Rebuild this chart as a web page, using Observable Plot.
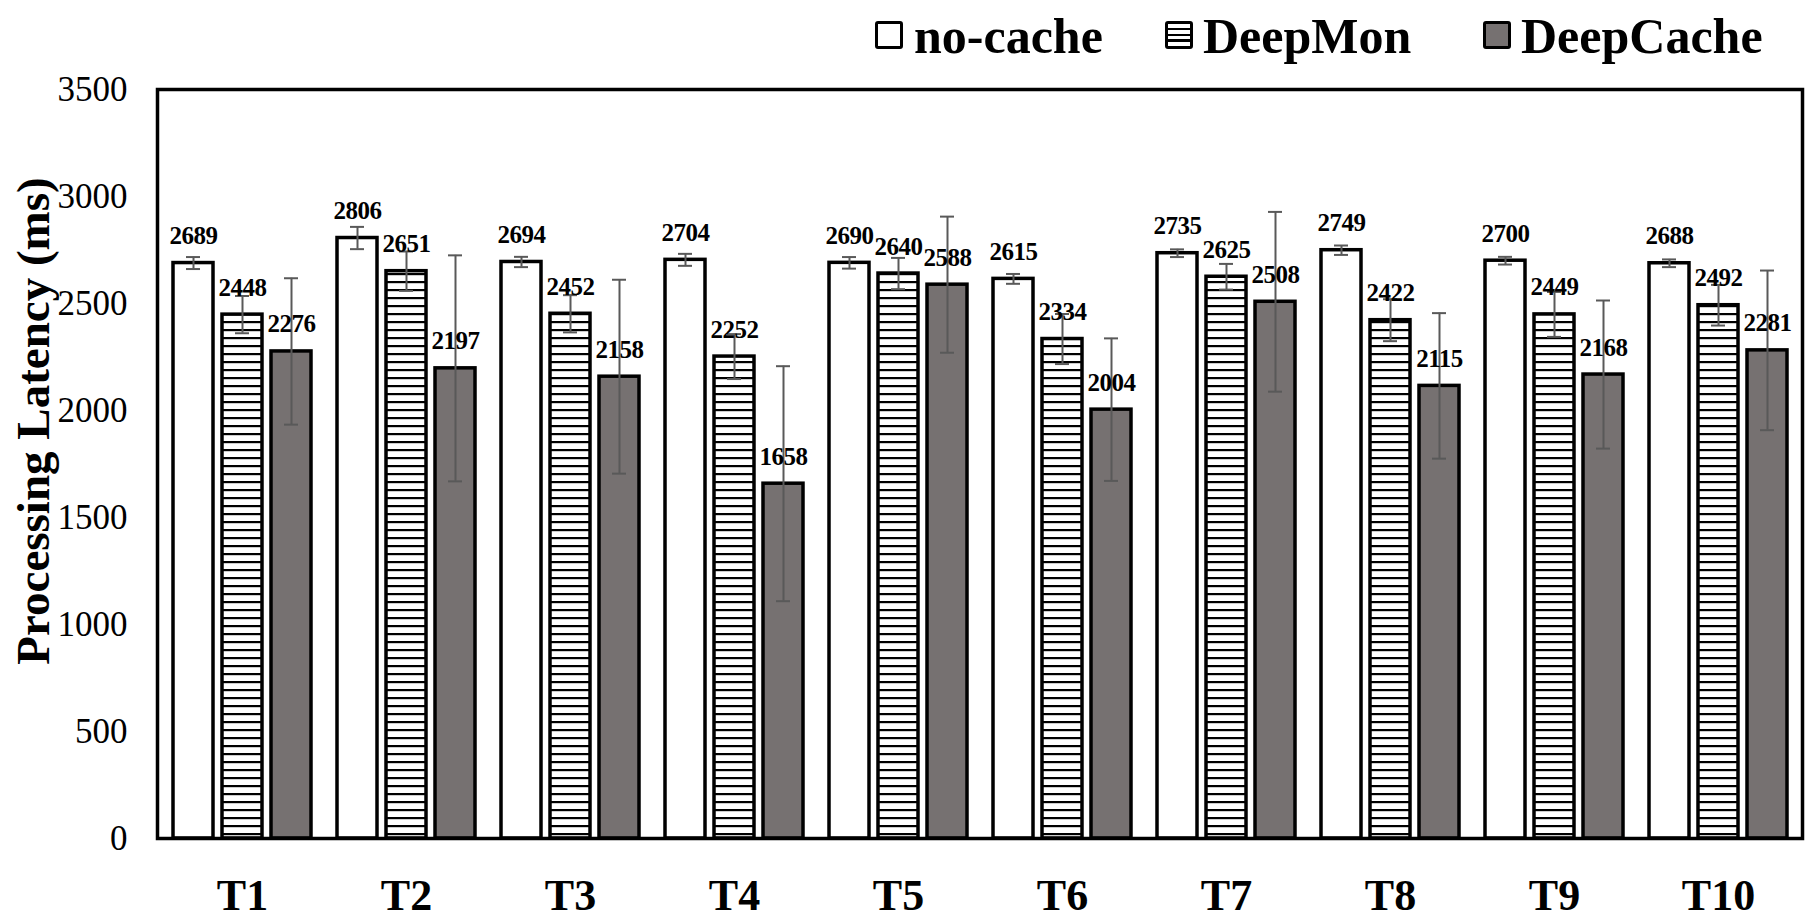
<!DOCTYPE html>
<html>
<head>
<meta charset="utf-8">
<script src="https://cdn.jsdelivr.net/npm/d3@7"></script>
<script src="https://cdn.jsdelivr.net/npm/@observablehq/plot@0.6"></script>
<style>
  html, body { margin: 0; padding: 0; background: #fff; }
  body { width: 1820px; height: 922px; overflow: hidden; font-family: "Liberation Serif", "Times New Roman", serif; }
  #legend { position: relative; width: 1820px; height: 70px; }
  .lg-box { position: absolute; top: 21px; width: 22px; height: 22px; border: 3px solid #000; border-radius: 3px; background: #fff; }
  .lg-text { position: absolute; top: 11px; font-size: 50px; line-height: 50px; font-weight: bold; color: #000; white-space: nowrap; }
  #chart svg { display: block; font-family: "Liberation Serif", "Times New Roman", serif; }
</style>
</head>
<body>
<div id="legend"></div>
<div id="chart"></div>
<script>
// ---- data ----
const tasks = ["T1", "T2", "T3", "T4", "T5", "T6", "T7", "T8", "T9", "T10"];
const seriesNames = ["no-cache", "DeepMon", "DeepCache"];
const noCache = [2689, 2806, 2694, 2704, 2690, 2615, 2735, 2749, 2700, 2688];
const deepMon = [2448, 2651, 2452, 2252, 2640, 2334, 2625, 2422, 2449, 2492];
const deepCache = [2276, 2197, 2158, 1658, 2588, 2004, 2508, 2115, 2168, 2281];
const noCacheErr = [28, 52, 24, 28, 27, 23, 18, 22, 18, 18];
const deepMonErr = [87, 92, 87, 105, 73, 117, 60, 98, 105, 95];
const deepCacheErr = [342, 528, 453, 549, 318, 333, 420, 340, 346, 373];
const yTicks = [0, 500, 1000, 1500, 2000, 2500, 3000, 3500];
const yLabel = "Processing Latency (ms)";

// ---- styles (not data) ----
const seriesStyle = {
  "no-cache": {fill: "#ffffff", dx: -49},
  "DeepMon": {fill: "url(#hatch)", dx: 0},
  "DeepCache": {fill: "#767171", dx: 49}
};
const legendPos = {
  "no-cache": {box: 875, text: 914},
  "DeepMon": {box: 1165, text: 1203},
  "DeepCache": {box: 1483, text: 1521}
};

// ---- legend ----
const legend = document.getElementById("legend");
for (const name of seriesNames) {
  const b = document.createElement("div");
  b.className = "lg-box";
  b.style.left = legendPos[name].box + "px";
  if (name === "DeepMon") {
    b.style.background = "linear-gradient(to bottom, #fff 0 4px, #000 4px 6.5px, #fff 6.5px 9.75px, #000 9.75px 12.25px, #fff 12.25px 15.5px, #000 15.5px 18px, #fff 18px 22px)";
  } else {
    b.style.background = seriesStyle[name].fill;
  }
  legend.appendChild(b);
  const t = document.createElement("div");
  t.className = "lg-text";
  t.style.left = legendPos[name].text + "px";
  t.textContent = name;
  legend.appendChild(t);
}

// ---- table ----
const valuesBy = {"no-cache": noCache, "DeepMon": deepMon, "DeepCache": deepCache};
const errBy = {"no-cache": noCacheErr, "DeepMon": deepMonErr, "DeepCache": deepCacheErr};
const rows = seriesNames.map(s => tasks.map((t, i) => ({
  task: t, series: s, value: valuesBy[s][i], lo: valuesBy[s][i] - errBy[s][i], hi: valuesBy[s][i] + errBy[s][i]
})));

const bandInset = 62;   // bar width inside each task band
const capInset = 75;    // error cap width
const marks = [];
seriesNames.forEach((s, k) => {
  const st = seriesStyle[s];
  marks.push(Plot.barY(rows[k], {x: "task", y: "value", fill: st.fill, stroke: "#000", strokeWidth: 3.5,
    insetLeft: bandInset, insetRight: bandInset, dx: st.dx}));
});
seriesNames.forEach((s, k) => {
  const st = seriesStyle[s];
  const d = rows[k];
  marks.push(Plot.ruleX(d, {x: "task", y1: "lo", y2: "hi", stroke: "#595959", strokeWidth: 2, dx: st.dx}));
  marks.push(Plot.tickY(d, {x: "task", y: "lo", stroke: "#595959", strokeWidth: 2, insetLeft: capInset, insetRight: capInset, dx: st.dx}));
  marks.push(Plot.tickY(d, {x: "task", y: "hi", stroke: "#595959", strokeWidth: 2, insetLeft: capInset, insetRight: capInset, dx: st.dx}));
});
seriesNames.forEach((s, k) => {
  const st = seriesStyle[s];
  marks.push(Plot.text(rows[k], {x: "task", y: "value", text: d => String(d.value), dx: st.dx, dy: -19,
    lineAnchor: "bottom", fontSize: 25, fontWeight: "bold", fill: "#000"}));
});
marks.push(Plot.frame({stroke: "#000", strokeWidth: 3.5}));
marks.push(Plot.axisY({ticks: yTicks, tickFormat: d => String(d), tickSize: 0, tickPadding: 30, fontSize: 35, label: null}));
marks.push(Plot.axisX({tickSize: 0, tickPadding: 40, fontSize: 44, fontWeight: "bold", label: null}));
marks.push(Plot.text([yLabel], {frameAnchor: "left", textAnchor: "middle", text: d => d, rotate: -90, dx: -124, dy: -43,
  fontSize: 47, fontWeight: "bold", fill: "#000"}));

const svg = Plot.plot({
  width: 1820,
  height: 852,
  marginTop: 19,
  marginBottom: 84,
  marginLeft: 157,
  marginRight: 18,
  style: {fontFamily: "Liberation Serif, Times New Roman, serif", color: "#000", background: "#fff"},
  x: {domain: tasks, padding: 0, label: null},
  y: {domain: [0, 3500], label: null},
  marks
});

// hatch pattern for DeepMon bars
const defs = d3.select(svg).insert("defs", ":first-child");
const pat = defs.append("pattern").attr("id", "hatch").attr("patternUnits", "userSpaceOnUse")
  .attr("width", 8).attr("height", 8);
pat.append("rect").attr("width", 8).attr("height", 8).attr("fill", "#fff");
pat.append("rect").attr("y", 3).attr("width", 8).attr("height", 2.2).attr("fill", "#000");

d3.select(svg).selectAll('g[aria-label="text"] text').filter(function() { return this.textContent !== yLabel; })
  .attr("letter-spacing", "-0.5px");
document.getElementById("chart").appendChild(svg);
</script>
</body>
</html>
